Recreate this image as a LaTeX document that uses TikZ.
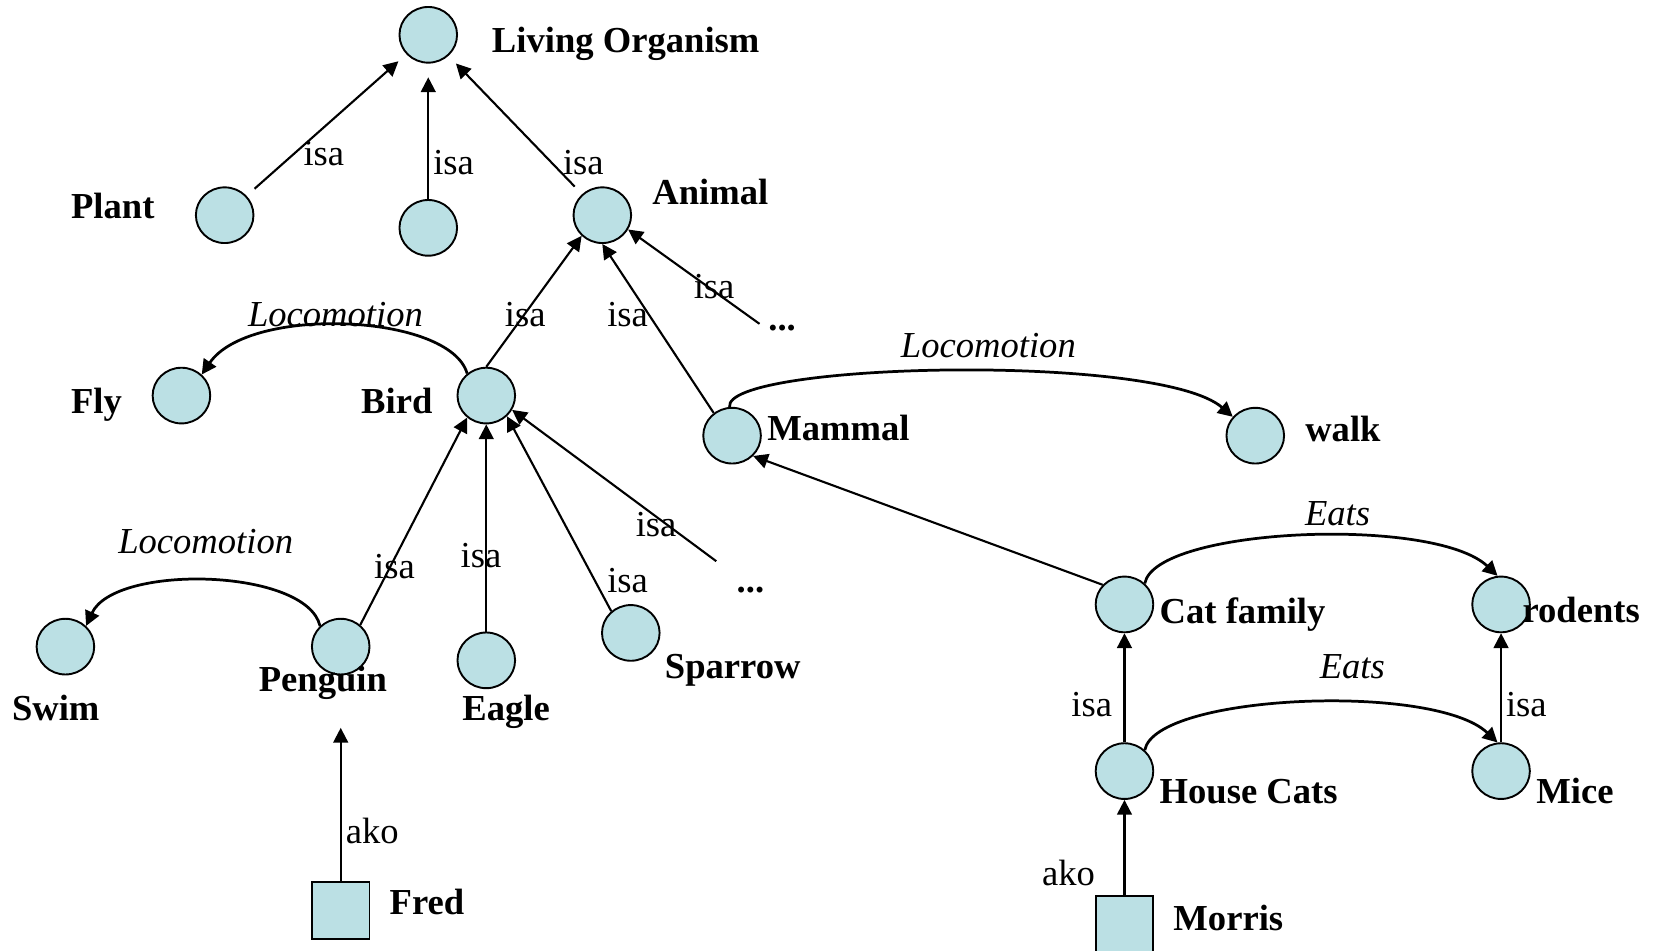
\documentclass[tikz,border=0pt]{standalone}
\usepackage{fontspec}
\setmainfont{Liberation Serif}
\usetikzlibrary{arrows.meta,shapes.geometric}
\definecolor{nodefill}{RGB}{187,224,228}
\newcommand\netfont{\fontsize{17.35pt}{20pt}\selectfont}
\begin{document}
\begin{tikzpicture}[x=0.5pt,y=0.5pt,
  concept/.style={ellipse,draw=black,line width=0.9pt,fill=nodefill,
    minimum width=27.3pt,minimum height=26.4pt,inner sep=0pt},
  instance/.style={rectangle,draw=black,line width=0.9pt,fill=nodefill,
    minimum size=27.3pt,inner sep=0pt},
  nametext/.style={anchor=base west,inner sep=0pt,font={\netfont\bfseries}},
  rel/.style={-{Triangle[length=7pt,width=7pt]},line width=1pt},
  slot/.style={-{Triangle[length=7pt,width=7pt]},line width=1.3pt},
  lbl/.style={inner sep=0pt,font=\netfont},
  slotlbl/.style={inner sep=0pt,font={\netfont\itshape}},
]
\useasboundingbox (0,0) rectangle (1568,-901);

% concepts
\node[concept] (lo) at (406,-33) {};
\node[concept] (plant) at (213,-204) {};
\node[concept] (other) at (406,-216) {};
\node[concept] (animal) at (571,-204) {};
\node[concept] (fly) at (172,-375) {};
\node[concept] (bird) at (461,-375) {};
\node[concept] (mammal) at (694,-413) {};
\node[concept] (walk) at (1190,-413) {};
\node[concept] (swim) at (62,-613) {};
\node[concept] (penguin) at (323,-613) {};
\node[concept] (eagle) at (461,-626) {};
\node[concept] (sparrow) at (598,-600) {};
\node[concept] (catfam) at (1066,-573) {};
\node[concept] (rodents) at (1423,-573) {};
\node[concept] (housecats) at (1066,-731) {};
\node[concept] (mice) at (1423,-731) {};
% instances
\node[instance] (fred) at (323,-863) {};
\node[instance] (morris) at (1066,-877) {};

% names
\node[nametext] (t-lo) at (466,-50) {Living Organism};
\node[nametext] (t-plant) at (67,-207) {Plant};
\node[nametext] (t-animal) at (618,-194) {Animal};
\node[nametext] (t-fly) at (67,-392) {Fly};
\node[nametext] (t-bird) at (342,-392) {Bird};
\node[nametext] (t-mammal) at (727,-418) {Mammal};
\node[nametext] (t-walk) at (1237,-419) {walk};
\node[nametext] (t-swim) at (11,-683) {Swim};
\node[nametext] (t-penguin) at (245,-656) {Penguin};
\node[nametext] (t-eagle) at (438,-683) {Eagle};
\node[nametext] (t-sparrow) at (630,-643) {Sparrow};
\node[nametext] (t-fred) at (369,-867) {Fred};
\node[nametext] (t-catfam) at (1099,-591) {Cat family};
\node[nametext] (t-rodents) at (1443,-590) {rodents};
\node[nametext] (t-housecats) at (1099,-762) {House Cats};
\node[nametext] (t-mice) at (1456,-762) {Mice};
\node[nametext] (t-morris) at (1112,-882) {Morris};
\node[nametext] (dotsA) at (728,-313) {...};
\node[nametext] (dotsB) at (698,-562) {...};

% free ends
\coordinate (tailA) at (720,-307);
\coordinate (tailB) at (679,-532);
\coordinate (penfoot) at (323,-690);

% isa / ako links
\draw[rel,shorten <=5pt,shorten >=5pt] (plant) -- (lo);
\draw[rel,shorten >=6.5pt] (other.north) -- (lo.south);
\draw[rel,shorten <=5pt,shorten >=5pt] (animal) -- (lo);
\draw[rel] (bird.north) -- (animal.225);
\draw[rel] (mammal.129) -- (animal.south);
\draw[rel] (tailA) -- (animal.331);
\draw[rel] (penguin.48) -- (bird.229);
\draw[rel] (eagle.north) -- (bird.south);
\draw[rel] (sparrow.132) -- (bird.315);
\draw[rel] (tailB) -- (bird.331);
\draw[rel] (fred.north) -- (penfoot);
\draw[rel] (catfam.138) -- (mammal.316);
\draw[rel] (housecats.north) -- (catfam.south);
\draw[rel] (mice.north) -- (rodents.south);
\draw[rel] (morris.north) -- (housecats.south);

% slot links
\draw[slot] (bird.131) .. controls +(-16,57) and +(45,66) .. (fly.46);
\draw[slot] (mammal.95) .. controls +(-6,42) and +(-70,61) .. (walk.140);
\draw[slot] (penguin.135) .. controls +(-13,55) and +(27,59) .. (swim.45);
\draw[slot] (catfam.46) .. controls +(10,53) and +(-60,57) .. (rodents.97);
\draw[slot] (housecats.46) .. controls +(10,53) and +(-60,57) .. (mice.97);

% link labels
\node[lbl] (l-plant) at (307,-146) {isa};
\node[lbl] (l-other) at (430,-154) {isa};
\node[lbl] (l-animal) at (553,-154) {isa};
\node[lbl] (l-bird) at (498,-298) {isa};
\node[lbl] (l-mammal) at (595,-298) {isa};
\node[lbl] (l-dotsA) at (677,-272) {isa};
\node[lbl] (l-penguin) at (374,-537) {isa};
\node[lbl] (l-eagle) at (456,-527) {isa};
\node[lbl] (l-sparrow) at (595,-550) {isa};
\node[lbl] (l-dotsB) at (622,-497) {isa};
\node[lbl] (l-fred) at (353,-788) {ako};
\node[lbl] (l-housecats) at (1035,-668) {isa};
\node[lbl] (l-mice) at (1447,-668) {isa};
\node[lbl] (l-morris) at (1013,-828) {ako};
\node[slotlbl] (s-fly) at (318,-298) {Locomotion};
\node[slotlbl] (s-walk) at (937,-328) {Locomotion};
\node[slotlbl] (s-swim) at (195,-513) {Locomotion};
\node[slotlbl] (s-rodents) at (1268,-487) {Eats};
\node[slotlbl] (s-mice) at (1282,-632) {Eats};
\end{tikzpicture}
\end{document}
